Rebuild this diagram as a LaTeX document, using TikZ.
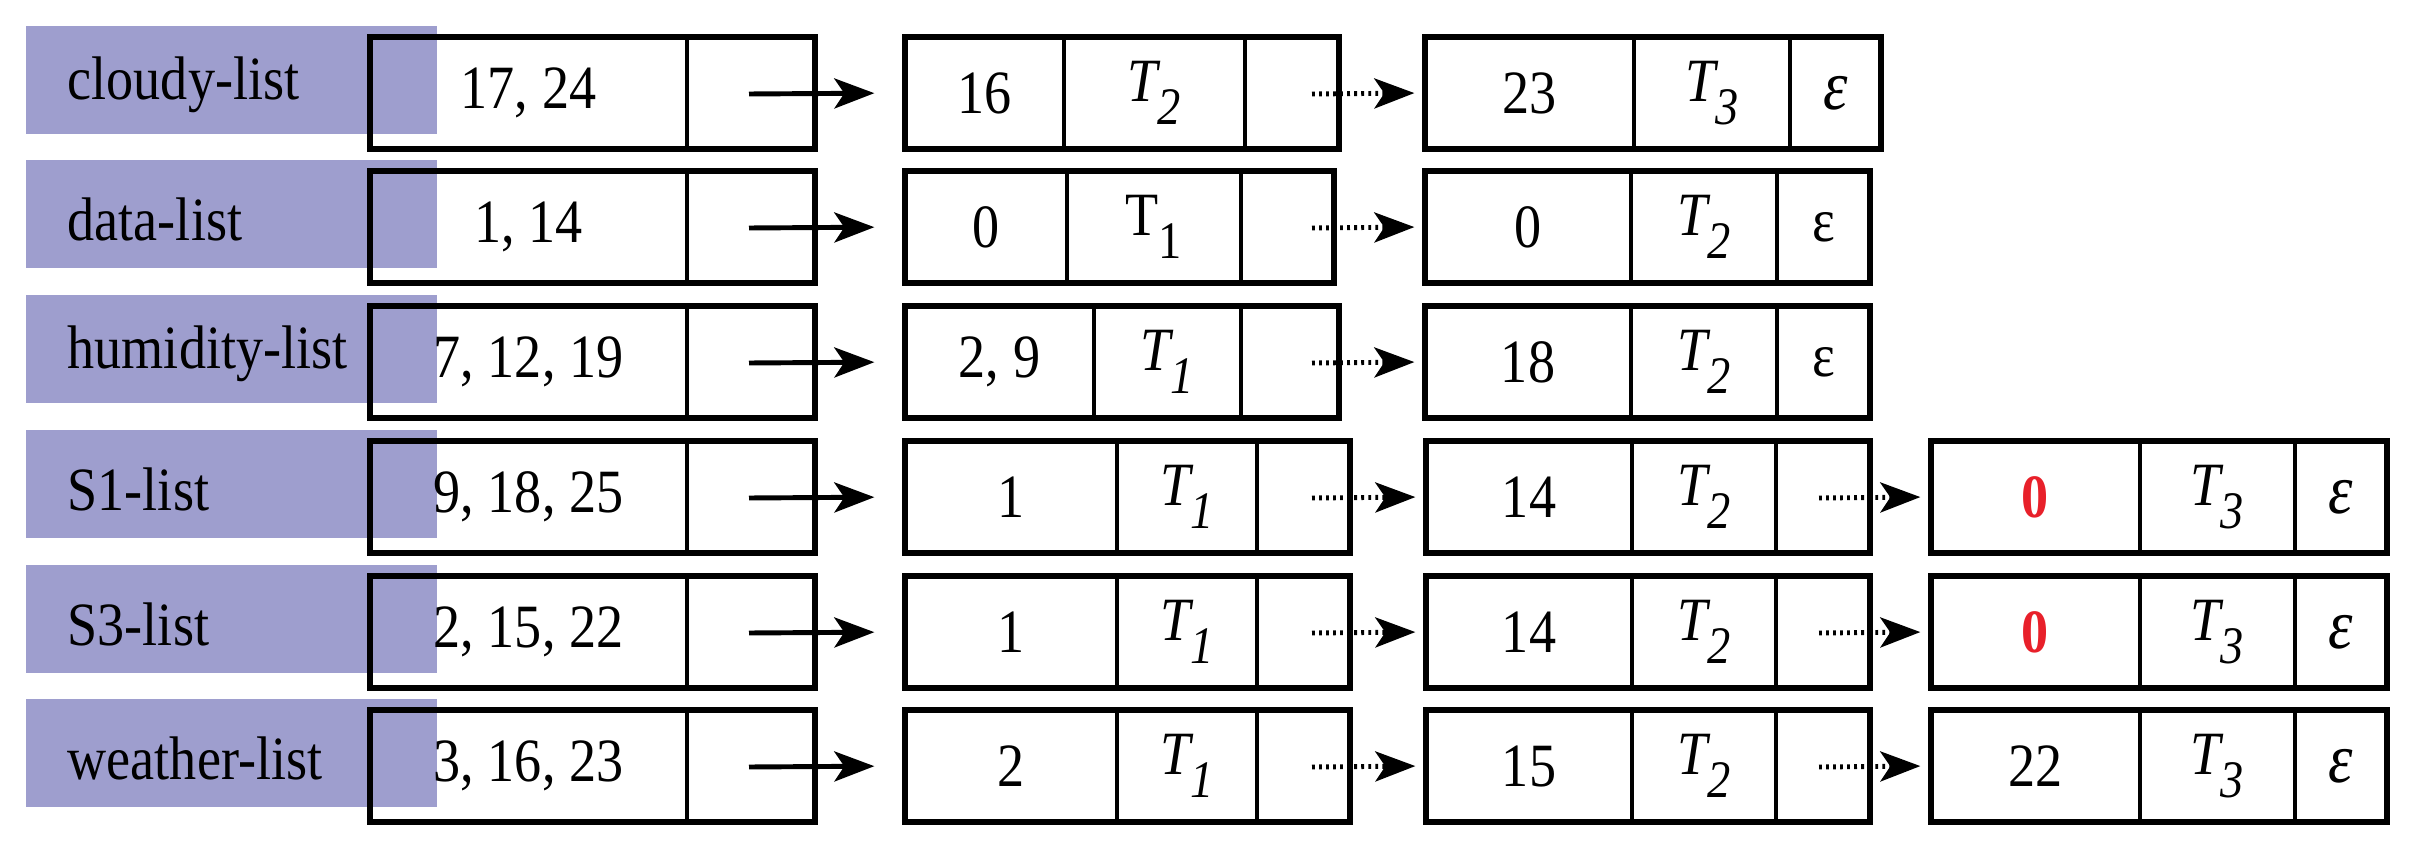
\documentclass[tikz,border=0pt]{standalone}
\usepackage{fontspec}
\setmainfont{Liberation Serif}
\usetikzlibrary{arrows.meta}
\definecolor{lav}{HTML}{9E9ECE}
\definecolor{zred}{HTML}{E8202A}
\newcommand\Tsub[2]{{#1T\raisebox{-0.38em}{\fontsize{15}{16}\selectfont #2}}}
\newcommand\ep{{\itshape\fontsize{20}{20}\selectfont ε}}
\newcommand\rec[4]{\node[cellst,minimum width={(#3-#2)*0.01cm}] (#1) at ({(#2+#3)/2},{#4+56}) {};}
\newcommand\txt[5]{\node[txtst] (#1) at ({(#2+#3)/2},{#4+56}) {\scalebox{0.88}[1]{#5}};}
\newcommand\dv[2]{\draw[boxline] (#1,#2) -- (#1,{#2+112});}
\begin{document}
\begin{tikzpicture}[x=0.01cm,y=-0.01cm,
  cellst/.style={draw,line width=1.5pt,minimum height=1.12cm,inner sep=0pt},
  boxline/.style={line width=1.1pt},
  txtst/.style={inner sep=0pt,font=\fontsize{17.5}{19}\selectfont},
  lab/.style={fill=lav,minimum width=4.11cm,minimum height=1.08cm,inner sep=0pt,anchor=north west},
  labtxt/.style={anchor=west,inner sep=0pt,font=\fontsize{17.5}{19}\selectfont},
  solidarr/.style={line width=1.4pt,shorten >=0.28cm,-{Stealth[length=0.4cm,width=0.3cm,inset=0.1cm]}},
  dotarr/.style={line width=1.4pt,dash pattern=on 0.8pt off 1.2pt,shorten >=0.08cm,-{Stealth[length=0.4cm,width=0.3cm,inset=0.1cm]}}]
\useasboundingbox (0,0) rectangle (2414,849);
\def\ya{37}\def\yb{171}\def\yc{306}\def\yd{441}\def\ye{576}\def\yf{710}
\foreach \y/\n/\t in {\ya/a/cloudy-list,\yb/b/data-list,\yc/c/humidity-list,\yd/d/S1-list,\ye/e/S3-list,\yf/f/weather-list}{
  \node[lab] (lab\n) at (25,{\y-12}) {};
  \node[labtxt] (labt\n) at (67,{\y+48}) {\scalebox{0.88}[1]{\t}};
}
\foreach \y/\n/\t in {\ya/a/{17, 24},\yb/b/{1, 14},\yc/c/{7, 12, 19},\yd/d/{9, 18, 25},\ye/e/{2, 15, 22},\yf/f/{3, 16, 23}}{
  \rec{h\n}{370}{815}{\y}
  \dv{687}{\y}
  \txt{ht\n}{370}{687}{\y}{\t}
  \coordinate (hs\n) at (749,{\y+57});
}
\rec{ca}{905}{1339}{\ya}\dv{1064}{\ya}\dv{1245}{\ya}
\txt{cat}{905}{1064}{\ya}{16}\txt{cau}{1064}{1245}{\ya}{\Tsub{\itshape}{2}}
\rec{cb}{905}{1334}{\yb}\dv{1067}{\yb}\dv{1241}{\yb}
\txt{cbt}{905}{1067}{\yb}{0}\txt{cbu}{1067}{1241}{\yb}{\Tsub{}{1}}
\rec{cc}{905}{1339}{\yc}\dv{1094}{\yc}\dv{1241}{\yc}
\txt{cct}{905}{1094}{\yc}{2, 9}\txt{ccu}{1094}{1241}{\yc}{\Tsub{\itshape}{1}}
\foreach \y/\n/\t in {\yd/d/1,\ye/e/1,\yf/f/2}{
  \rec{c\n}{905}{1350}{\y}\dv{1117}{\y}\dv{1257}{\y}
  \txt{c\n t}{905}{1117}{\y}{\t}\txt{c\n u}{1117}{1257}{\y}{\Tsub{\itshape}{1}}
}
\foreach \y/\n in {\ya/a,\yb/b,\yc/c,\yd/d,\ye/e,\yf/f}{\coordinate (cs\n) at (1312,{\y+57});}
\rec{da}{1425}{1881}{\ya}\dv{1634}{\ya}\dv{1790}{\ya}
\txt{dat}{1425}{1634}{\ya}{23}\txt{dau}{1634}{1790}{\ya}{\Tsub{\itshape}{3}}\txt{dav}{1790}{1881}{\ya}{\ep}
\rec{db}{1425}{1870}{\yb}\dv{1631}{\yb}\dv{1777}{\yb}
\txt{dbt}{1425}{1631}{\yb}{0}\txt{dbu}{1631}{1777}{\yb}{\Tsub{\itshape}{2}}\txt{dbv}{1777}{1870}{\yb}{ε}
\rec{dc}{1425}{1870}{\yc}\dv{1631}{\yc}\dv{1777}{\yc}
\txt{dct}{1425}{1631}{\yc}{18}\txt{dcu}{1631}{1777}{\yc}{\Tsub{\itshape}{2}}\txt{dcv}{1777}{1870}{\yc}{ε}
\foreach \y/\n/\t in {\yd/d/14,\ye/e/14,\yf/f/15}{
  \rec{d\n}{1426}{1870}{\y}\dv{1632}{\y}\dv{1776}{\y}
  \txt{d\n t}{1426}{1632}{\y}{\t}\txt{d\n u}{1632}{1776}{\y}{\Tsub{\itshape}{2}}
  \coordinate (ds\n) at (1819,{\y+57});
}
\foreach \y/\n/\t in {\yd/d/{\textcolor{zred}{\textbf{0}}},\ye/e/{\textcolor{zred}{\textbf{0}}},\yf/f/22}{
  \rec{e\n}{1931}{2387}{\y}\dv{2140}{\y}\dv{2295}{\y}
  \txt{e\n t}{1931}{2140}{\y}{\t}\txt{e\n u}{2140}{2295}{\y}{\Tsub{\itshape}{3}}\txt{e\n v}{2295}{2387}{\y}{\ep}
}
\foreach \n in {a,b,c,d,e,f}{
  \draw[solidarr] (hs\n) -- (c\n.west);
  \draw[dotarr] (cs\n) -- (d\n.west);
}
\foreach \n in {d,e,f}{\draw[dotarr] (ds\n) -- (e\n.west);}
\end{tikzpicture}
\end{document}
